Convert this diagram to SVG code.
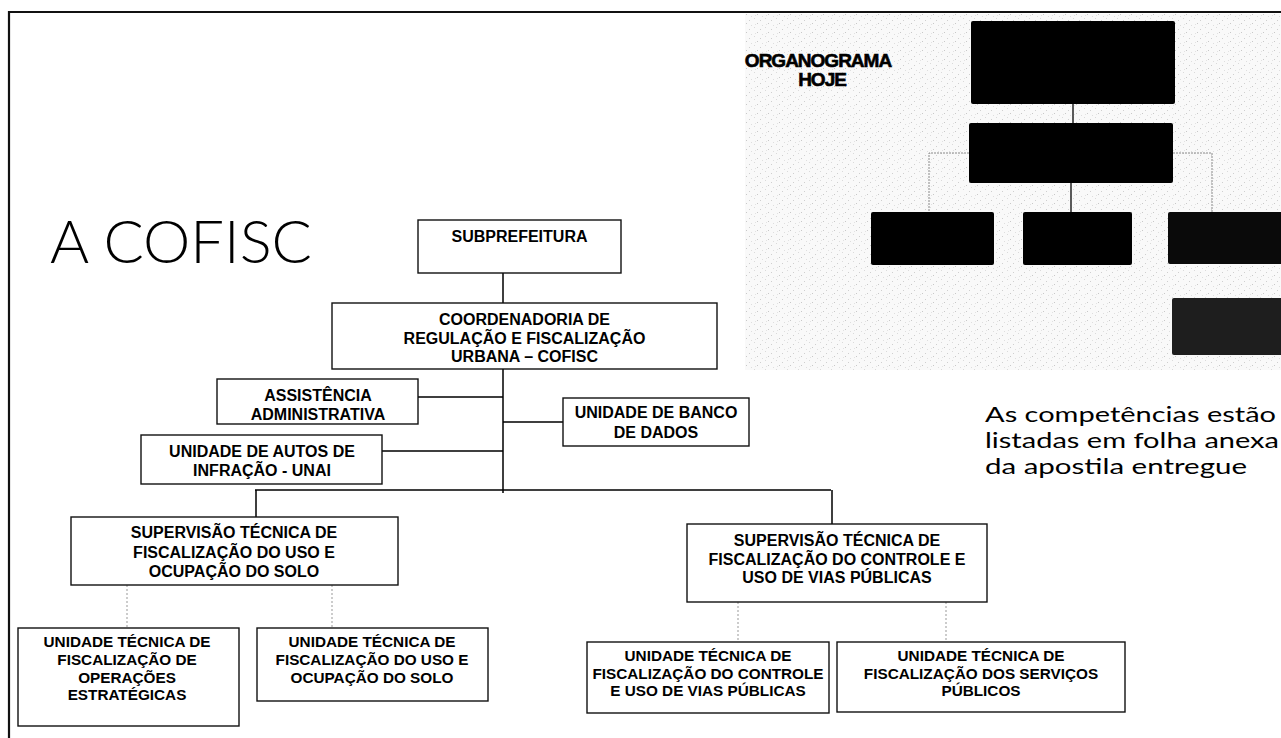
<svg xmlns="http://www.w3.org/2000/svg" width="1281" height="738" viewBox="0 0 1281 738">
<defs>
<pattern id="speckle" width="11" height="9" patternUnits="userSpaceOnUse">
<rect width="11" height="9" fill="#f9f9f9"/>
<rect x="1" y="2" width="1" height="1" fill="#cfcfcf"/>
<rect x="6" y="0" width="1" height="1" fill="#dadada"/>
<rect x="9" y="5" width="1" height="1" fill="#c8c8c8"/>
<rect x="3" y="7" width="1" height="1" fill="#dedede"/>
<rect x="7" y="6" width="1" height="1" fill="#e2e2e2"/>
</pattern>
</defs>
<style>
.box{fill:#fff;stroke:#111;stroke-width:1.4}
.t{font-family:"Liberation Sans",Arial,sans-serif;font-weight:bold;font-size:16px;fill:#000;text-anchor:middle}
.ts{font-size:15.3px}
.c{stroke:#000;stroke-width:1.5;fill:none}
.d{stroke:#999;stroke-width:1;stroke-dasharray:2 2;fill:none}
.ob{fill:#000}
.oc{stroke:#333;stroke-width:1.6;fill:none}
.od{stroke:#888;stroke-width:1;stroke-dasharray:2 1;fill:none}
.big{font-family:Lato,"Open Sans",sans-serif;fill:#000}
.hd{font-family:"Liberation Sans",Arial,sans-serif;font-weight:bold;font-size:19px;letter-spacing:-1px;text-anchor:middle;fill:#000;stroke:#000;stroke-width:0.6}
</style>
<rect width="1281" height="738" fill="#fff"/>
<rect x="745" y="14" width="536" height="356" fill="url(#speckle)"/>
<path d="M9 738 V12 H1281" fill="none" stroke="#111" stroke-width="2.2"/>

<g id="title"><text class="big" x="50" y="263" font-size="60" font-weight="300" textLength="262" lengthAdjust="spacingAndGlyphs">A COFISC</text></g>
<g id="note">
<text class="big" x="985" y="422" font-size="22" font-weight="400" textLength="291" lengthAdjust="spacingAndGlyphs">As competências estão</text>
<text class="big" x="985" y="448" font-size="22" font-weight="400" textLength="294" lengthAdjust="spacingAndGlyphs">listadas em folha anexa</text>
<text class="big" x="985" y="474" font-size="22" font-weight="400" textLength="262" lengthAdjust="spacingAndGlyphs">da apostila entregue</text>
</g>

<g id="organograma-hoje">
<text class="hd" x="818" y="67">ORGANOGRAMA</text>
<text class="hd" x="822" y="86">HOJE</text>
<g id="org-connectors">
<path class="oc" d="M1073 104 V123 M1071 183 V212"/>
<path class="od" d="M969 153 H929 V212 M1173 153 H1212 V212"/>
</g>
<rect id="org-b1" class="ob" x="971" y="21" width="204" height="83" rx="2"/>
<rect id="org-b2" class="ob" x="969" y="123" width="204" height="60" rx="2"/>
<rect id="org-b3" class="ob" x="871" y="212" width="123" height="53" rx="2"/>
<rect id="org-b4" class="ob" x="1023" y="212" width="109" height="53" rx="2"/>
<rect id="org-b5" x="1168" y="212" width="120" height="52" rx="2" fill="#0a0a0a"/>
<rect id="org-b6" x="1172" y="298" width="116" height="57" rx="2" fill="#1e1e1e"/>
</g>

<g id="connectors">
<path class="c" d="M503 273 V303 M503 369 V493 M418 397 H503 M503 422 H563 M382 451 H503 M255 490 H831 M256 490 V517 M832 490 V524"/>
<path class="d" d="M127 585 V628 M332 585 V628 M738 602 V642 M946 602 V642"/>
</g>

<g id="subprefeitura"><rect class="box" x="418" y="220" width="203" height="53"/>
<text class="t" x="519.5" y="242">SUBPREFEITURA</text></g>

<g id="cofisc"><rect class="box" x="332" y="303" width="385" height="66"/>
<text class="t" x="524.5" y="325">COORDENADORIA DE</text>
<text class="t" x="524.5" y="343.5">REGULAÇÃO E FISCALIZAÇÃO</text>
<text class="t" x="524.5" y="362">URBANA – COFISC</text></g>

<g id="assistencia"><rect class="box" x="217" y="379" width="201" height="45"/>
<text class="t" x="318" y="401">ASSISTÊNCIA</text>
<text class="t" x="318" y="420">ADMINISTRATIVA</text></g>

<g id="banco"><rect class="box" x="563" y="398" width="186" height="48"/>
<text class="t" x="656" y="418">UNIDADE DE BANCO</text>
<text class="t" x="656" y="438">DE DADOS</text></g>

<g id="unai"><rect class="box" x="141" y="435" width="241" height="49"/>
<text class="t" x="262" y="457">UNIDADE DE AUTOS DE</text>
<text class="t" x="262" y="476">INFRAÇÃO - UNAI</text></g>

<g id="sup-solo"><rect class="box" x="71" y="517" width="327" height="68"/>
<text class="t" x="234" y="538">SUPERVISÃO TÉCNICA DE</text>
<text class="t" x="234" y="557.5">FISCALIZAÇÃO DO USO E</text>
<text class="t" x="234" y="577">OCUPAÇÃO DO SOLO</text></g>

<g id="sup-vias"><rect class="box" x="687" y="524" width="300" height="78"/>
<text class="t" x="837" y="546">SUPERVISÃO TÉCNICA DE</text>
<text class="t" x="837" y="564.5">FISCALIZAÇÃO DO CONTROLE E</text>
<text class="t" x="837" y="583">USO DE VIAS PÚBLICAS</text></g>

<g id="ut-operacoes"><rect class="box" x="18" y="628" width="221" height="98"/>
<text class="t ts" x="127" y="647">UNIDADE TÉCNICA DE</text>
<text class="t ts" x="127" y="665">FISCALIZAÇÃO DE</text>
<text class="t ts" x="127" y="683">OPERAÇÕES</text>
<text class="t ts" x="127" y="700">ESTRATÉGICAS</text></g>

<g id="ut-solo"><rect class="box" x="257" y="628" width="231" height="73"/>
<text class="t ts" x="372" y="647">UNIDADE TÉCNICA DE</text>
<text class="t ts" x="372" y="665">FISCALIZAÇÃO DO USO E</text>
<text class="t ts" x="372" y="683">OCUPAÇÃO DO SOLO</text></g>

<g id="ut-vias"><rect class="box" x="587" y="642" width="242" height="71"/>
<text class="t ts" x="708" y="661">UNIDADE TÉCNICA DE</text>
<text class="t ts" x="708" y="678.5">FISCALIZAÇÃO DO CONTROLE</text>
<text class="t ts" x="708" y="696">E USO DE VIAS PÚBLICAS</text></g>

<g id="ut-servicos"><rect class="box" x="837" y="642" width="288" height="70"/>
<text class="t ts" x="981" y="661">UNIDADE TÉCNICA DE</text>
<text class="t ts" x="981" y="678.5">FISCALIZAÇÃO DOS SERVIÇOS</text>
<text class="t ts" x="981" y="696">PÚBLICOS</text></g>
</svg>
